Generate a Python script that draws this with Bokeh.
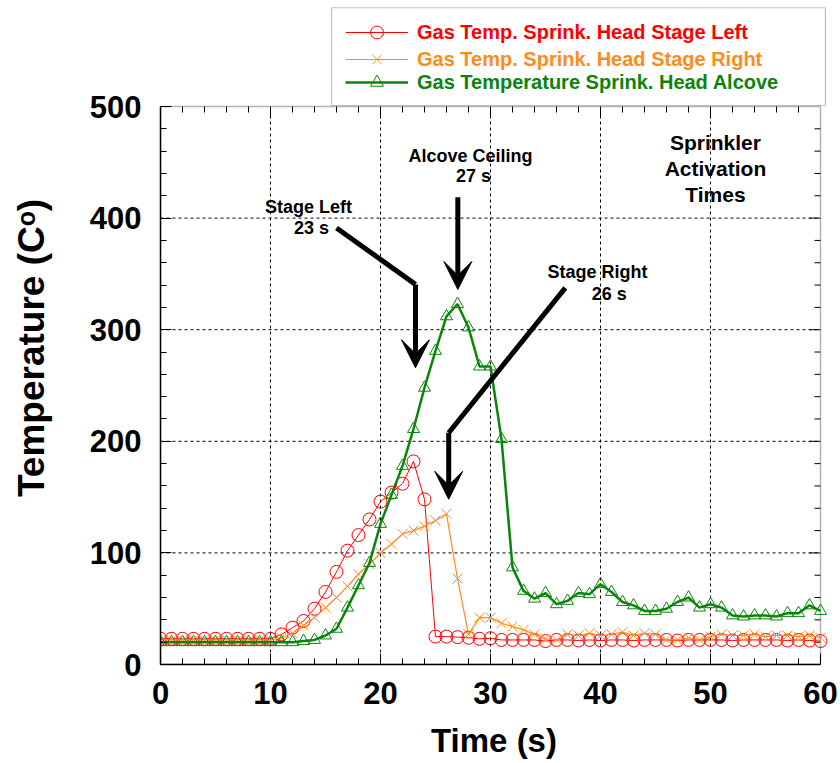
from bokeh.plotting import figure
from bokeh.models import (Range1d, SingleIntervalTicker, Legend, LegendItem,
                          BoxAnnotation, Label, Arrow, VeeHead)
from bokeh.embed import file_html
from bokeh.resources import INLINE

# ---------------- data ----------------
time_s = list(range(0, 61))

stage_left = [23, 23, 23, 23, 23, 23, 23, 23, 23, 23, 23,
              27, 33, 39, 50, 65, 83, 102, 116, 130, 146,
              154, 162, 182, 148, 25, 25, 24.5, 24, 23, 23.5,
              22, 22, 22, 22, 21, 22, 22, 21.5, 22, 21.5,
              22, 22, 21.5, 22, 22, 22, 21.5, 22, 22, 22,
              22, 21.5, 22, 22, 22, 22, 21.5, 22, 21.5, 21]

stage_right = [22, 22, 22, 22, 22, 22, 22, 22, 22, 22, 22,
               24, 28, 35, 42, 51, 60, 70, 81, 90, 100,
               108, 117, 120, 124, 129, 135, 77, 27, 42, 42,
               37, 34, 31, 27, 23, 22, 27, 26, 28, 26,
               27, 29, 26, 28, 27, 22, 22, 24, 22, 25,
               27, 26, 26, 27, 25, 26, 26, 25, 26, 24]

alcove = [20, 20, 20, 20, 20, 20, 20, 20, 20, 20, 20,
          20, 20, 21, 22, 26, 32, 51, 71, 91, 126,
          152, 178, 211, 248, 281, 312, 323, 302, 267, 267,
          202, 87, 66, 59, 64, 54, 57, 64, 63, 72,
          65, 56, 53, 48, 48, 50, 56, 60, 51, 54,
          51, 44, 43, 44, 44, 43, 46, 46, 53, 48]

series_names = ["Gas Temp. Sprink. Head Stage Left",
                "Gas Temp. Sprink. Head Stage Right",
                "Gas Temperature Sprink. Head Alcove"]
series_colors = ["#FF0000", "#FF8C1A", "#0A850A"]

x_label = "Time (s)"
y_label = "Temperature (C\u1d52)\u00a0\u00a0\u00a0"

x_min, x_max = 0, 60
y_min, y_max = 0, 500
x_major = [10, 20, 30, 40, 50]
y_major = [100, 200, 300, 400]
x_tick_positions = list(range(2, 60, 2))
y_tick_positions = list(range(20, 500, 20))

FONT = "Liberation Sans"

# ---------------- figure ----------------
W, H = 838, 763
FRAME_L, FRAME_B = 160, 664
PLOT_R = 820                                   # pixel of x = 60
PX_PER_X = (PLOT_R - FRAME_L) / (x_max - x_min)
PX_PER_Y = (664 - 106) / (y_max - y_min)
FRAME_R = 827                                  # frame reaches past x = 60 for the legend box
x_right = x_max + (FRAME_R - PLOT_R) / PX_PER_X
y_top = FRAME_B / PX_PER_Y                     # frame reaches the canvas top

p = figure(width=W, height=H, output_backend="svg", toolbar_location=None,
           x_range=Range1d(x_min, x_right), y_range=Range1d(y_min, y_top),
           min_border_left=FRAME_L, min_border_right=W - FRAME_R,
           min_border_top=0, min_border_bottom=H - FRAME_B)
p.background_fill_color = "white"
p.border_fill_color = "white"
p.outline_line_color = None

xt = SingleIntervalTicker(interval=10, num_minor_ticks=5)
yt = SingleIntervalTicker(interval=100, num_minor_ticks=5)
p.xaxis.ticker = xt
p.yaxis.ticker = yt
p.xaxis.bounds = (x_min, x_max)
p.yaxis.bounds = (y_min, y_max)

for ax in [p.xaxis[0], p.yaxis[0]]:
    ax.major_tick_in = 11
    ax.major_tick_out = 0
    ax.minor_tick_in = 6
    ax.minor_tick_out = 0
    ax.axis_line_width = 1.5
    ax.major_tick_line_width = 1
    ax.minor_tick_line_width = 1
    ax.major_label_text_font = FONT
    ax.major_label_text_font_style = "bold"
    ax.major_label_text_font_size = "31px"
    ax.major_label_text_color = "black"
    ax.axis_label_text_font = FONT
    ax.axis_label_text_font_style = "bold"
    ax.axis_label_text_color = "black"

p.xaxis.axis_label = x_label
p.yaxis.axis_label = y_label
p.xaxis.axis_label_text_font_size = "33px"
p.yaxis.axis_label_text_font_size = "37px"
p.xaxis.major_label_standoff = 17
p.yaxis.major_label_standoff = 19
p.xaxis.axis_label_standoff = 15
p.yaxis.axis_label_standoff = 35

# grid drawn only inside the 0-60 / 0-500 box
p.xgrid.visible = False
p.ygrid.visible = False
p.segment(x0=x_major, y0=[y_min] * len(x_major), x1=x_major, y1=[y_max] * len(x_major),
          line_color="black", line_dash="3 3", line_width=1)
p.segment(x0=[x_min] * len(y_major), y0=y_major, x1=[x_max] * len(y_major), y1=y_major,
          line_color="black", line_dash="3 3", line_width=1)

# plot box, top and right ticks
p.add_layout(BoxAnnotation(left=x_min, right=x_max, bottom=y_min, top=y_max,
                           fill_alpha=0, line_color="black", line_width=1.5,
                           level="underlay"))
top_len = [(11 if t % 10 == 0 else 6) / PX_PER_Y for t in x_tick_positions]
p.segment(x0=x_tick_positions, y0=[y_max] * len(x_tick_positions),
          x1=x_tick_positions, y1=[y_max - l for l in top_len],
          line_color="black", line_width=1)
right_len = [(11 if t % 100 == 0 else 6) / PX_PER_X for t in y_tick_positions]
p.segment(x0=[x_max] * len(y_tick_positions), y0=y_tick_positions,
          x1=[x_max - l for l in right_len], y1=y_tick_positions,
          line_color="black", line_width=1)

# ---------------- series ----------------
r1l = p.line(time_s, stage_left, line_color=series_colors[0], line_width=1)
r1m = p.scatter(time_s, stage_left, marker="circle", size=13, fill_color=None,
                line_color=series_colors[0], line_width=1)
r2l = p.line(time_s, stage_right, line_color=series_colors[1], line_width=1.2)
r2m = p.scatter(time_s, stage_right, marker="x", size=14,
                line_color=series_colors[1], line_width=1)
r3l = p.line(time_s, alcove, line_color=series_colors[2], line_width=2.5)
r3m = p.scatter(time_s, alcove, marker="triangle", size=12, fill_color=None,
                line_color=series_colors[2], line_width=1)

# ---------------- legend ----------------
p.add_layout(BoxAnnotation(left=15.55, right=60.45, bottom=500.9, top=588.5,
                           fill_color="white", fill_alpha=1, line_color="#333333",
                           line_width=1.2))

legend_items = [[r1l, r1m], [r2l, r2m], [r3l, r3m]]
legend_bottoms = [616, 589, 566]
for name, rends, col, yb in zip(series_names, legend_items, series_colors, legend_bottoms):
    lg = Legend(items=[LegendItem(label=name, renderers=rends)],
                location=(185, yb), padding=0, margin=0, spacing=0,
                border_line_alpha=0, background_fill_alpha=0,
                glyph_width=63, glyph_height=32, label_height=20,
                label_standoff=9, label_text_font=FONT, label_text_font_style="bold",
                label_text_font_size="20px", label_text_color=col)
    p.add_layout(lg, "center")

# ---------------- annotations ----------------
ann = [("Stage Left", 13.45, 409.9, 18), ("23 s", 13.73, 391.1, 18),
       ("Alcove Ceiling", 28.18, 455.5, 18), ("27 s", 28.45, 437.3, 18),
       ("Stage Right", 39.73, 351.5, 18), ("26 s", 40.8, 332.0, 18),
       ("Sprinkler", 50.45, 467.8, 21), ("Activation", 50.45, 444.8, 21),
       ("Times", 50.45, 421.5, 21)]
for txt, x, y, fs in ann:
    p.add_layout(Label(x=x, y=y, text=txt, text_align="center", text_baseline="middle",
                       text_font=FONT, text_font_style="bold", text_font_size=f"{fs}px",
                       text_color="black"))

p.line([16.0, 23.18], [391.2, 340.6], line_color="black", line_width=5)
p.line([36.8, 26.2], [337.5, 207.7], line_color="black", line_width=5)
for x0, y0, x1, y1 in [(23.18, 340.6, 23.18, 265.9),
                       (27.03, 418.7, 27.03, 336.1),
                       (26.2, 207.7, 26.2, 148.1)]:
    p.add_layout(Arrow(x_start=x0, y_start=y0, x_end=x1, y_end=y1,
                       line_color="black", line_width=5,
                       end=VeeHead(size=28, fill_color="black", line_color="black")))

open("out.html", "w").write(file_html(p, INLINE))
